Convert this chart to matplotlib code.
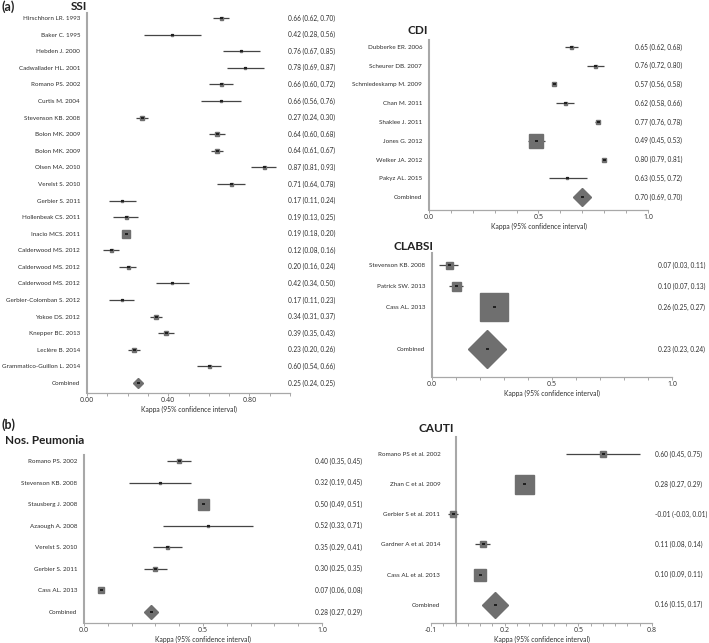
import matplotlib
matplotlib.use('Agg')
import matplotlib.pyplot as plt
import matplotlib.transforms as mtransforms
from matplotlib.ticker import MultipleLocator, FixedLocator, FormatStrFormatter

plt.rcParams['font.family'] = ['Lato', 'DejaVu Sans']

W, H = 709, 643

# ---- SSI ----
ssi_studies = ['Hirschhorn LR. 1993', 'Baker C. 1995', 'Hebden J. 2000', 'Cadwallader HL. 2001',
               'Romano PS. 2002', 'Curtis M. 2004', 'Stevenson KB. 2008', 'Bolon MK. 2009',
               'Bolon MK. 2009', 'Olsen MA. 2010', 'Verelst S. 2010', 'Gerbier S. 2011',
               'Hollenbeak CS. 2011', 'Inacio MCS. 2011', 'Calderwood MS. 2012', 'Calderwood MS. 2012',
               'Calderwood MS. 2012', 'Gerbier-Colomban S. 2012', 'Yokoe DS. 2012', 'Knepper BC. 2013',
               'Leclère B. 2014', 'Grammatico-Guillon L. 2014', 'Combined']
ssi_kappa = [0.66, 0.42, 0.76, 0.78, 0.66, 0.66, 0.27, 0.64, 0.64, 0.87, 0.71, 0.17,
             0.19, 0.19, 0.12, 0.20, 0.42, 0.17, 0.34, 0.39, 0.23, 0.60, 0.25]
ssi_lo = [0.62, 0.28, 0.67, 0.69, 0.60, 0.56, 0.24, 0.60, 0.61, 0.81, 0.64, 0.11,
          0.13, 0.18, 0.08, 0.16, 0.34, 0.11, 0.31, 0.35, 0.20, 0.54, 0.24]
ssi_hi = [0.70, 0.56, 0.85, 0.87, 0.72, 0.76, 0.30, 0.68, 0.67, 0.93, 0.78, 0.24,
          0.25, 0.20, 0.16, 0.24, 0.50, 0.23, 0.37, 0.43, 0.26, 0.66, 0.25]

# ---- CDI ----
cdi_studies = ['Dubberke ER. 2006', 'Scheurer DB. 2007', 'Schmiedeskamp M. 2009', 'Chan M. 2011',
               'Shaklee J. 2011', 'Jones G. 2012', 'Welker JA. 2012', 'Pakyz AL. 2015', 'Combined']
cdi_kappa = [0.65, 0.76, 0.57, 0.62, 0.77, 0.49, 0.80, 0.63, 0.70]
cdi_lo = [0.62, 0.72, 0.56, 0.58, 0.76, 0.45, 0.79, 0.55, 0.69]
cdi_hi = [0.68, 0.80, 0.58, 0.66, 0.78, 0.53, 0.81, 0.72, 0.70]

# ---- CLABSI ----
clabsi_studies = ['Stevenson KB. 2008', 'Patrick SW. 2013', 'Cass AL. 2013', 'Combined']
clabsi_kappa = [0.07, 0.10, 0.26, 0.23]
clabsi_lo = [0.03, 0.07, 0.25, 0.23]
clabsi_hi = [0.11, 0.13, 0.27, 0.24]

# ---- Nosocomial pneumonia ----
pneu_studies = ['Romano PS. 2002', 'Stevenson KB. 2008', 'Stausberg J. 2008', 'Azaough A. 2008',
                'Verelst S. 2010', 'Gerbier S. 2011', 'Cass AL. 2013', 'Combined']
pneu_kappa = [0.40, 0.32, 0.50, 0.52, 0.35, 0.30, 0.07, 0.28]
pneu_lo = [0.35, 0.19, 0.49, 0.33, 0.29, 0.25, 0.06, 0.27]
pneu_hi = [0.45, 0.45, 0.51, 0.71, 0.41, 0.35, 0.08, 0.29]

# ---- CAUTI ----
cauti_studies = ['Romano PS et al. 2002', 'Zhan C et al. 2009', 'Gerbier S et al. 2011',
                 'Gardner A et al. 2014', 'Cass AL et al. 2013', 'Combined']
cauti_kappa = [0.60, 0.28, -0.01, 0.11, 0.10, 0.16]
cauti_lo = [0.45, 0.27, -0.03, 0.08, 0.09, 0.15]
cauti_hi = [0.75, 0.29, 0.01, 0.14, 0.11, 0.17]

# marker sides in pixels (study weight), last one is the combined diamond width
ssi_box = [3, 2, 2, 2, 3, 2, 5, 4, 5, 3, 3, 2, 3, 8, 3, 3, 2, 2, 4, 4, 5, 3, 10]
cdi_box = [3, 3, 5, 3, 5, 14, 5, 2, 17]
clabsi_box = [7, 9, 28, 38]
pneu_box = [4, 2, 11, 2, 3, 4, 6, 13]
cauti_box = [6, 19, 6, 6, 12, 25]

GREY = '#6f6f6f'
LINE = '#454545'
SPINE = '#a8a8a8'
TXT = '#2e2e2e'
PX = 72 / 100  # points per pixel


def panel(fig, left, top, right, bottom):
    return fig.add_axes([left / W, 1 - bottom / H, (right - left) / W, (bottom - top) / H])


def forest(ax, studies, kappa, lo, hi, box, rows, ylim, xlim, major, minor, fmt,
           value_x, label_pad=5, zero_spine=False):
    for r, k, l, h, s in zip(rows[:-1], kappa[:-1], lo[:-1], hi[:-1], box[:-1]):
        ax.hlines(r, l, h, color=LINE, lw=0.9, zorder=2)
        ax.plot(k, r, marker='s', ms=s * PX, color=GREY, mec=GREY, zorder=3)
        ax.plot(k, r, marker='_', ms=3 * PX, mew=1.2, color='#111111', zorder=4)
    ax.plot(kappa[-1], rows[-1], marker='D', ms=box[-1] / 1.414 * PX, color=GREY, mec=GREY, zorder=3)
    ax.plot(kappa[-1], rows[-1], marker='_', ms=3 * PX, mew=1.2, color='#111111', zorder=4)

    trans = mtransforms.blended_transform_factory(ax.transAxes, ax.transData)
    for r, k, l, h in zip(rows, kappa, lo, hi):
        ax.text(value_x, r, f'{k:.2f} ({l:.2f}, {h:.2f})', transform=trans,
                ha='left', va='center', fontsize=4.7, color=TXT, clip_on=False)

    ax.set_xlim(*xlim)
    ax.set_ylim(*ylim)
    ax.set_yticks(rows)
    ax.set_yticklabels(studies)
    ax.tick_params(axis='y', length=0, pad=label_pad, labelsize=4.5, labelcolor=TXT)
    ax.xaxis.set_major_locator(FixedLocator(major))
    ax.xaxis.set_minor_locator(MultipleLocator(minor))
    ax.xaxis.set_major_formatter(FormatStrFormatter(fmt))
    ax.tick_params(axis='x', which='both', length=2, width=0.7, color=SPINE,
                   labelsize=5.0, labelcolor=TXT, pad=1, labelfontfamily='Open Sans')
    # axis title placed just under the tick labels
    lab = mtransforms.offset_copy(ax.transAxes, fig=ax.figure, x=0, y=-16 * PX, units='points')
    ax.text(0.5, 0, 'Kappa (95% confidence interval)', transform=lab, ha='center', va='center',
            fontsize=4.9, color=TXT)
    for side in ['top', 'right']:
        ax.spines[side].set_visible(False)
    ax.spines['left'].set_color(SPINE)
    ax.spines['left'].set_linewidth(1.5)
    ax.spines['bottom'].set_color(SPINE)
    ax.spines['bottom'].set_linewidth(0.9)
    if zero_spine:
        ax.spines['left'].set_position(('data', 0))
    ax.patch.set_alpha(0)


def title(fig, x, y, txt, ha='right', size=8.5):
    fig.text(x / W, 1 - y / H, txt, ha=ha, va='center', fontsize=size, fontweight='bold', color='#222222')


fig = plt.figure(figsize=(W / 100, H / 100), dpi=100)

ax = panel(fig, 87, 13, 290, 393)
forest(ax, ssi_studies, ssi_kappa, ssi_lo, ssi_hi, ssi_box, list(range(len(ssi_studies))),
       (22.6, -0.3), (0, 1.0), [0, 0.4, 0.8], 0.1, '%.2f', 0.99)

ax = panel(fig, 429, 40, 648, 210)
forest(ax, cdi_studies, cdi_kappa, cdi_lo, cdi_hi, cdi_box, list(range(len(cdi_studies))),
       (8.69, -0.37), (0, 1.0), [0, 0.5, 1.0], 0.1, '%.1f', 0.94)

ax = panel(fig, 432, 253, 672, 377)
forest(ax, clabsi_studies, clabsi_kappa, clabsi_lo, clabsi_hi, clabsi_box, [0, 1, 2, 4],
       (5.33, -0.57), (0, 1.0), [0, 0.5, 1.0], 0.1, '%.1f', 0.94)

ax = panel(fig, 84, 455, 322, 623)
forest(ax, pneu_studies, pneu_kappa, pneu_lo, pneu_hi, pneu_box, list(range(len(pneu_studies))),
       (7.51, -0.28), (0, 1.0), [0, 0.5, 1.0], 0.1, '%.1f', 0.97)

ax = panel(fig, 431, 437, 652, 623)
forest(ax, cauti_studies, cauti_kappa, cauti_lo, cauti_hi, cauti_box, list(range(len(cauti_studies))),
       (5.6, -0.56), (-0.1, 0.8), [-0.1, 0.2, 0.5, 0.8], 0.05, '%.1f', 1.015,
       label_pad=11, zero_spine=True)

title(fig, 2, 7, '(a)', ha='left', size=9)
title(fig, 87, 6, 'SSI')
title(fig, 428, 30, 'CDI')
title(fig, 433, 247, 'CLABSI')
title(fig, 2, 425, '(b)', ha='left', size=9)
title(fig, 84, 441, 'Nos. Peumonia')
title(fig, 454, 428, 'CAUTI')

fig.savefig('out.png', dpi=100)
